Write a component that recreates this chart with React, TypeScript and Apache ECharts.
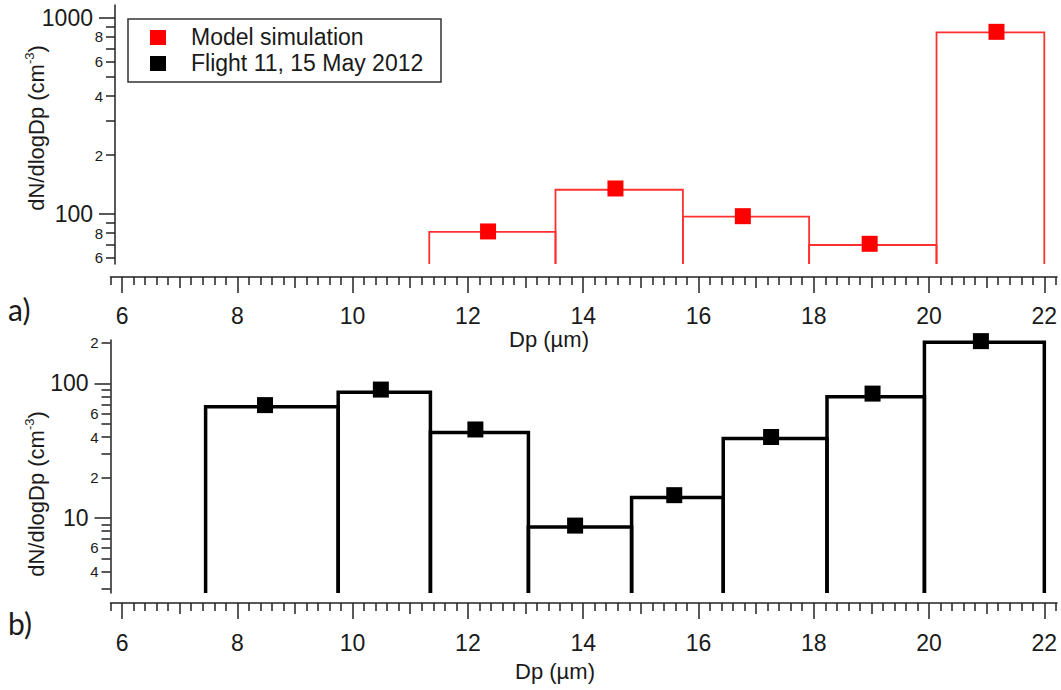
import React, { useEffect, useRef } from 'react';
import * as echarts from 'echarts';

// ---- data ----
const xMajorTicks = [6, 8, 10, 12, 14, 16, 18, 20, 22];
const xMediumTicks = [7, 9, 11, 13, 15, 17, 19, 21];
const xMin = 5.8;
const xMax = 22.22;

// panel a) model simulation
const modelEdges = [11.33, 13.52, 15.73, 17.92, 20.13, 22.0];
const modelValues = [81, 133, 97, 69.5, 845];
const modelMarkerX = [12.35, 14.56, 16.77, 18.97, 21.17];
const modelMarkerY = [81.5, 135, 97.5, 70.5, 850];

// panel b) flight 11
const flightEdges = [7.45, 9.75, 11.35, 13.05, 14.84, 16.43, 18.23, 19.92, 22.0];
const flightValues = [67, 86, 43.2, 8.6, 14.2, 39, 79.5, 202];
const flightMarkerX = [8.48, 10.49, 12.13, 13.86, 15.58, 17.26, 19.02, 20.9];
const flightMarkerY = [69, 90, 45.5, 8.8, 14.8, 40, 84, 206];

// y axis ticks
const topYMin = 55.6;
const topYMax = 1165;
const topMajorY = [100, 1000];
const topMinorY = [60, 70, 80, 90, 200, 300, 400, 500, 600, 700, 800, 900];
const topMinorLabelY = [60, 80, 200, 400, 600, 800];

const botYMin = 2.78;
const botYMax = 210;
const botMajorY = [10, 100];
const botMinorY = [3, 4, 5, 6, 7, 8, 9, 20, 30, 40, 50, 60, 70, 80, 90, 200];
const botMinorLabelY = [4, 6, 20, 40, 60, 200];

const legendNames = ['Model simulation', 'Flight 11, 15 May 2012'];
const legendColors = ['#ff0000', '#000000'];
const yTitle = 'dN/dlogDp (cm';
const xTitle = 'Dp (µm)';

const FONT = '"Liberation Sans", Arial, sans-serif';
const AX = '#222222';
const TXT = '#1a1a1a';

function minorTickValues(): number[] {
  const out: number[] = [];
  for (let i = 0; i <= 82; i++) {
    const v = Math.round((5.8 + i * 0.2) * 10) / 10;
    if (Math.abs(v - Math.round(v)) > 1e-6 && v <= xMax + 1e-6) out.push(v);
  }
  return out;
}

function leadDigit(v: number): string {
  const p = Math.pow(10, Math.floor(Math.log10(v) + 1e-9));
  return String(Math.round(v / p));
}

function bins(edges: number[], values: number[]) {
  return values.map((v, i) => [edges[i], edges[i + 1], v]);
}

function xAxesFor(gridIndex: number, offset: number, labelMargin: number) {
  return [
    {
      type: 'value', gridIndex, min: xMin, max: xMax, position: 'bottom', offset,
      axisLine: { show: true, onZero: false, lineStyle: { color: AX, width: 1.5 } },
      axisTick: { show: true, customValues: xMajorTicks, length: 16, lineStyle: { color: AX, width: 1.5 } },
      axisLabel: { show: true, customValues: xMajorTicks, margin: labelMargin, fontSize: 23, fontFamily: FONT, color: TXT },
      splitLine: { show: false },
    },
    {
      type: 'value', gridIndex, min: xMin, max: xMax, position: 'bottom', offset,
      axisLine: { show: false, onZero: false },
      axisTick: { show: true, customValues: xMediumTicks, length: 11, lineStyle: { color: AX, width: 1.5 } },
      axisLabel: { show: false },
      splitLine: { show: false },
    },
    {
      type: 'value', gridIndex, min: xMin, max: xMax, position: 'bottom', offset,
      axisLine: { show: false, onZero: false },
      axisTick: { show: true, customValues: minorTickValues(), length: 8, lineStyle: { color: AX, width: 1.5 } },
      axisLabel: { show: false },
      splitLine: { show: false },
    },
  ];
}

function yAxesFor(gridIndex: number, min: number, max: number, major: number[], minor: number[], minorLabels: number[], offset: number) {
  return [
    {
      type: 'log', logBase: 10, gridIndex, min, max, position: 'left', offset,
      axisLine: { show: true, onZero: false, lineStyle: { color: AX, width: 1.5 } },
      axisTick: { show: true, customValues: major, length: 16, lineStyle: { color: AX, width: 1.5 } },
      axisLabel: { show: true, customValues: major, margin: 22, fontSize: 23, fontFamily: FONT, color: TXT, formatter: (v: number) => String(Math.round(v)) },
      splitLine: { show: false },
      minorTick: { show: false },
    },
    {
      type: 'log', logBase: 10, gridIndex, min, max, position: 'left', offset,
      axisLine: { show: false, onZero: false },
      axisTick: { show: true, customValues: minor, length: 9, lineStyle: { color: AX, width: 1.5 } },
      axisLabel: { show: true, customValues: minorLabels, margin: 12, fontSize: 15, fontFamily: FONT, color: TXT, formatter: (v: number) => leadDigit(v) },
      splitLine: { show: false },
    },
  ];
}

function stepSeries(name: string, xIdx: number, yIdx: number, data: number[][], yMin: number, color: string, width: number) {
  return {
    type: 'custom', name, xAxisIndex: xIdx, yAxisIndex: yIdx, clip: false, silent: true,
    encode: { x: [0, 1], y: 2 },
    data,
    renderItem: (params: any, api: any) => {
      const L = api.value(0);
      const R = api.value(1);
      const v = api.value(2);
      const pts = [api.coord([L, yMin]), api.coord([L, v]), api.coord([R, v]), api.coord([R, yMin])];
      return {
        type: 'polyline',
        shape: { points: pts },
        style: { stroke: color, lineWidth: width, fill: null, lineJoin: 'miter', lineCap: 'butt' },
      };
    },
  };
}

function markerSeries(name: string, xIdx: number, yIdx: number, xs: number[], ys: number[], color: string) {
  return {
    type: 'scatter', name, xAxisIndex: xIdx, yAxisIndex: yIdx, symbol: 'rect', symbolSize: 16,
    itemStyle: { color, opacity: 1 }, z: 5, silent: true,
    data: xs.map((x, i) => [x, ys[i]]),
  };
}

function titleText(x: number, y: number, rotate: boolean) {
  return {
    type: 'text', x, y, rotation: rotate ? Math.PI / 2 : 0, z: 10,
    style: {
      text: `{a|${yTitle}}{s|-3}{a|)}`,
      align: 'center', verticalAlign: 'middle',
      rich: {
        a: { fontSize: 22, fontFamily: FONT, fill: TXT, lineHeight: 26 },
        s: { fontSize: 13, fontFamily: FONT, fill: TXT, verticalAlign: 'top', lineHeight: 26 },
      },
    },
  };
}

export default function App() {
  const ref = useRef<HTMLDivElement>(null);
  useEffect(() => {
    document.body.style.margin = '0';
    const chart = echarts.init(ref.current!, null, { renderer: 'svg' });
    const option: any = {
      animation: false,
      backgroundColor: '#ffffff',
      grid: [
        { left: 110.5, top: 5, width: 946.5, height: 259 },
        { left: 110.5, top: 340, width: 946.5, height: 253 },
      ],
      xAxis: [...xAxesFor(0, 13, 27), ...xAxesFor(1, 10, 28)],
      yAxis: [
        ...yAxesFor(0, topYMin, topYMax, topMajorY, topMinorY, topMinorLabelY, -4.5),
        ...yAxesFor(1, botYMin, botYMax, botMajorY, botMinorY, botMinorLabelY, 0),
      ],
      series: [
        stepSeries(legendNames[0], 0, 0, bins(modelEdges, modelValues), topYMin, '#ff3030', 1.8),
        markerSeries(legendNames[0], 0, 0, modelMarkerX, modelMarkerY, legendColors[0]),
        stepSeries(legendNames[1], 3, 2, bins(flightEdges, flightValues), botYMin, '#000000', 3.5),
        markerSeries(legendNames[1], 3, 2, flightMarkerX, flightMarkerY, legendColors[1]),
      ],
      graphic: [
        { type: 'rect', z: 10, shape: { x: 128, y: 19, width: 313, height: 63 }, style: { fill: '#ffffff', stroke: '#333333', lineWidth: 1.5 } },
        { type: 'rect', z: 11, shape: { x: 150, y: 30, width: 16, height: 15 }, style: { fill: legendColors[0] } },
        { type: 'rect', z: 11, shape: { x: 150, y: 56, width: 16, height: 15 }, style: { fill: legendColors[1] } },
        { type: 'text', z: 11, x: 191, y: 37, style: { text: legendNames[0], fontSize: 23, fontFamily: FONT, fill: TXT, verticalAlign: 'middle' } },
        { type: 'text', z: 11, x: 191, y: 63, style: { text: legendNames[1], fontSize: 23, fontFamily: FONT, fill: TXT, verticalAlign: 'middle' } },
        titleText(36, 128, true),
        titleText(36, 494, true),
        { type: 'text', z: 10, x: 549, y: 339, style: { text: xTitle, fontSize: 22, fontFamily: FONT, fill: TXT, align: 'center', verticalAlign: 'middle' } },
        { type: 'text', z: 10, x: 555, y: 671, style: { text: xTitle, fontSize: 22, fontFamily: FONT, fill: TXT, align: 'center', verticalAlign: 'middle' } },
        { type: 'text', z: 10, x: 8, y: 309, style: { text: 'a)', fontSize: 30, fontFamily: 'Lato, "Open Sans", sans-serif', fill: TXT, verticalAlign: 'middle' } },
        { type: 'text', z: 10, x: 8, y: 623, style: { text: 'b)', fontSize: 30, fontFamily: 'Lato, "Open Sans", sans-serif', fill: TXT, verticalAlign: 'middle' } },
      ],
    };
    chart.setOption(option);
    return () => chart.dispose();
  }, []);
  return <div ref={ref} style={{ width: 1061, height: 690 }} />;
}
